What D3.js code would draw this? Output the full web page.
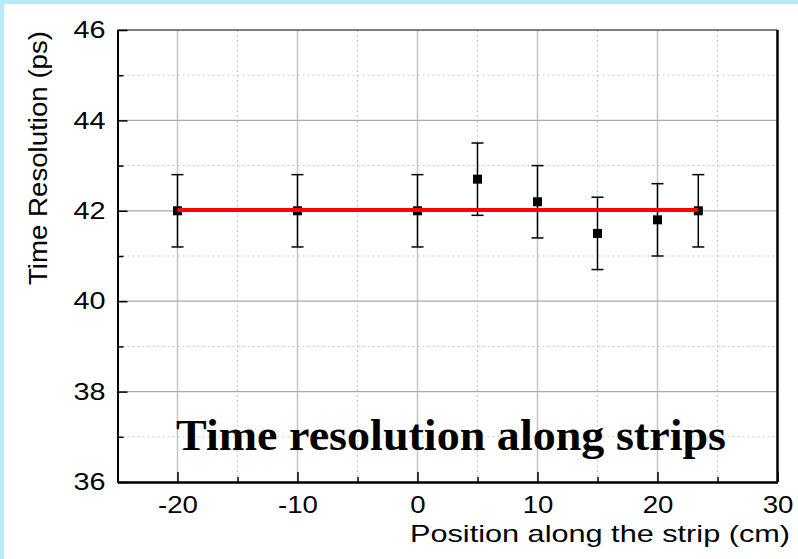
<!DOCTYPE html>
<html>
<head>
<meta charset="utf-8">
<script src="https://cdn.jsdelivr.net/npm/d3@7"></script>
<style>
  body { margin: 0; background: #fff; }
  svg { display: block; }
</style>
</head>
<body>
<svg width="798" height="559"></svg>
<script>
// measured points
var positions = [-20, -10, 0, 5, 10, 15, 20, 23.4];
var resolutions = [42.0, 42.0, 42.0, 42.7, 42.2, 41.5, 41.8, 42.0];
var errors = [0.8, 0.8, 0.8, 0.8, 0.8, 0.8, 0.8, 0.8];
// constant fit
var fitX = [-20, 23.4];
var fitY = [42.02, 42.02];
var xMajor = [-20, -10, 0, 10, 20, 30];
var xMinor = [-25, -15, -5, 5, 15, 25];
var yMajor = [36, 38, 40, 42, 44, 46];
var yMinor = [37, 39, 41, 43, 45];

var sans = 'Arial, "Liberation Sans", sans-serif';
var stretch = 1.2; // source picture is a bit wider than tall

var svg = d3.select('svg');
var margin = { left: 117.5, right: 777.5, top: 30, bottom: 482 };

// light blue frame (top + left)
svg.append('rect').attr('x', 0).attr('y', 0).attr('width', 798).attr('height', 4).attr('fill', '#b4ecfc');
svg.append('rect').attr('x', 0).attr('y', 0).attr('width', 4).attr('height', 559).attr('fill', '#b4ecfc');

var x = d3.scaleLinear().domain([-25, 30]).range([margin.left, margin.right]);
var y = d3.scaleLinear().domain([36, 46]).range([margin.bottom, margin.top]);

var grid = svg.append('g').attr('class', 'grid');
// minor grid, dotted
grid.selectAll('line.vmin').data(xMinor.filter(function (d) { return d > -25; })).enter().append('line')
    .attr('x1', function (d) { return x(d); }).attr('x2', function (d) { return x(d); })
    .attr('y1', margin.top).attr('y2', margin.bottom)
    .attr('stroke', '#c8c8c8').attr('stroke-width', 1).attr('stroke-dasharray', '2,3');
grid.selectAll('line.hmin').data(yMinor).enter().append('line')
    .attr('y1', function (d) { return y(d); }).attr('y2', function (d) { return y(d); })
    .attr('x1', margin.left).attr('x2', margin.right)
    .attr('stroke', '#c8c8c8').attr('stroke-width', 1).attr('stroke-dasharray', '2,3');
// major grid, solid
grid.selectAll('line.vmaj').data(xMajor.filter(function (d) { return d < 30; })).enter().append('line')
    .attr('x1', function (d) { return x(d); }).attr('x2', function (d) { return x(d); })
    .attr('y1', margin.top).attr('y2', margin.bottom)
    .attr('stroke', '#c4c4c4').attr('stroke-width', 1.5);
grid.selectAll('line.hmaj').data(yMajor.filter(function (d) { return d > 36 && d < 46; })).enter().append('line')
    .attr('y1', function (d) { return y(d); }).attr('y2', function (d) { return y(d); })
    .attr('x1', margin.left).attr('x2', margin.right)
    .attr('stroke', '#a8a8a8').attr('stroke-width', 1.2);

// frame
svg.append('line').attr('x1', margin.left).attr('x2', margin.right).attr('y1', margin.top).attr('y2', margin.top)
    .attr('stroke', '#555').attr('stroke-width', 1.5);
svg.append('line').attr('x1', margin.right).attr('x2', margin.right).attr('y1', margin.top).attr('y2', margin.bottom)
    .attr('stroke', '#000').attr('stroke-width', 2.5);

// axes: major ticks inward with labels, minor ticks inward without
var xAxis = svg.append('g').attr('transform', 'translate(0,' + margin.bottom + ')')
    .call(d3.axisBottom(x).tickValues(xMajor).tickSizeInner(-10).tickSizeOuter(0));
svg.append('g').attr('transform', 'translate(0,' + margin.bottom + ')')
    .call(d3.axisBottom(x).tickValues(xMinor).tickSizeInner(-5).tickSizeOuter(0).tickFormat(''));
var yAxis = svg.append('g').attr('transform', 'translate(' + margin.left + ',0)')
    .call(d3.axisLeft(y).tickValues(yMajor).tickSizeInner(-10).tickSizeOuter(0).tickPadding(12));
svg.append('g').attr('transform', 'translate(' + margin.left + ',0)')
    .call(d3.axisLeft(y).tickValues(yMinor).tickSizeInner(-6).tickSizeOuter(0).tickFormat(''));

svg.selectAll('.domain').attr('stroke', '#000').attr('stroke-width', 2);
svg.selectAll('.tick line').attr('stroke', '#000').attr('stroke-width', 1.5);
xAxis.selectAll('text').attr('font-family', sans).attr('font-size', 23).attr('fill', '#000')
    .attr('y', 31).attr('dy', null)
    .text(function (d) { return String(d); });
yAxis.selectAll('text').attr('font-family', sans).attr('font-size', 24).attr('fill', '#000');
svg.selectAll('.tick text').each(function () {
    var w = this.getComputedTextLength();
    d3.select(this).attr('textLength', w * stretch).attr('lengthAdjust', 'spacingAndGlyphs');
});

// error bars
var pts = positions.map(function (p, i) { return { x: p, y: resolutions[i], e: errors[i] }; });
var eb = svg.append('g').attr('class', 'errorbars').attr('stroke', '#000').attr('stroke-width', 1.5);
eb.selectAll('line.v').data(pts).enter().append('line')
    .attr('x1', function (d) { return x(d.x); }).attr('x2', function (d) { return x(d.x); })
    .attr('y1', function (d) { return y(d.y + d.e); }).attr('y2', function (d) { return y(d.y - d.e); });
eb.selectAll('line.top').data(pts).enter().append('line')
    .attr('x1', function (d) { return x(d.x) - 6; }).attr('x2', function (d) { return x(d.x) + 6; })
    .attr('y1', function (d) { return y(d.y + d.e); }).attr('y2', function (d) { return y(d.y + d.e); });
eb.selectAll('line.bot').data(pts).enter().append('line')
    .attr('x1', function (d) { return x(d.x) - 6; }).attr('x2', function (d) { return x(d.x) + 6; })
    .attr('y1', function (d) { return y(d.y - d.e); }).attr('y2', function (d) { return y(d.y - d.e); });

svg.append('g').selectAll('rect').data(pts).enter().append('rect')
    .attr('x', function (d) { return x(d.x) - 4.5; }).attr('y', function (d) { return y(d.y) - 4.5; })
    .attr('width', 9).attr('height', 9).attr('fill', '#000');

// fit line
svg.append('path')
    .datum(fitX.map(function (v, i) { return [v, fitY[i]]; }))
    .attr('d', d3.line().x(function (d) { return x(d[0]); }).y(function (d) { return y(d[1]); }))
    .attr('stroke', '#ff0000').attr('stroke-width', 4).attr('fill', 'none');

// labels
svg.append('text').attr('x', 410).attr('y', 542)
    .attr('font-family', sans).attr('font-size', 24)
    .attr('textLength', 380).attr('lengthAdjust', 'spacingAndGlyphs')
    .text('Position along the strip (cm)');
svg.append('text').attr('transform', 'translate(47,285) rotate(-90)')
    .attr('font-family', sans).attr('font-size', 25)
    .attr('textLength', 254).attr('lengthAdjust', 'spacingAndGlyphs')
    .text('Time Resolution (ps)');
svg.append('text').attr('x', 176).attr('y', 450)
    .attr('font-family', '"Liberation Serif", "DejaVu Serif", serif').attr('font-weight', 'bold').attr('font-size', 44)
    .attr('textLength', 550).attr('lengthAdjust', 'spacingAndGlyphs')
    .text('Time resolution along strips');
</script>
</body>
</html>
